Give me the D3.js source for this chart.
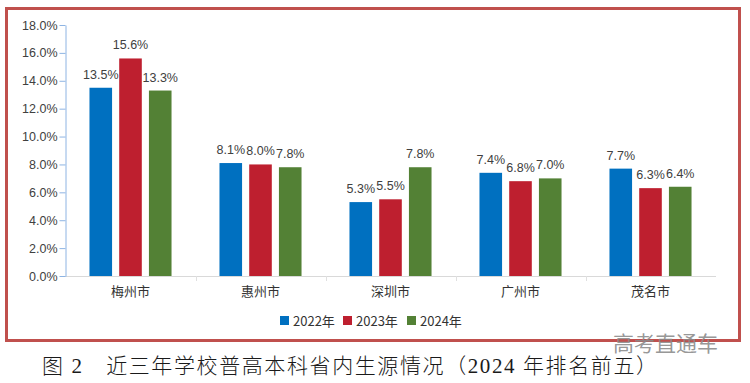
<!DOCTYPE html>
<html><head><meta charset="utf-8">
<script src="https://cdn.jsdelivr.net/npm/d3@7"></script>
<style>body{margin:0;background:#fff;}svg{display:block;}</style>
</head><body>
<svg id="c" width="750" height="383"></svg>
<script>
const categories = ["梅州市","惠州市","深圳市","广州市","茂名市"];
const seriesNames = ["2022年","2023年","2024年"];
const v2022 = [13.5, 8.1, 5.3, 7.4, 7.7];
const v2023 = [15.6, 8.0, 5.5, 6.8, 6.3];
const v2024 = [13.3, 7.8, 7.8, 7.0, 6.4];
const yTicks = [0,2,4,6,8,10,12,14,16,18];
const colors = ["#0070c0","#be1f2f","#538135"];
const caption = "图 2　近三年学校普高本科省内生源情况（2024 年排名前五）";
const watermark = "高考直通车";

const series = [v2022, v2023, v2024];
const svg = d3.select("#c");
const font = "'Liberation Sans', Arial, sans-serif";

// frame
svg.append("rect").attr("x",6.5).attr("y",8.5).attr("width",733).attr("height",332)
  .attr("fill","none").attr("stroke","#c0504d").attr("stroke-width",3);

const x0 = d3.scaleBand().domain(categories).range([65.5,715.5]);
const x1 = d3.scaleBand().domain(seriesNames).range([-44,44]).paddingInner(0.24).paddingOuter(0.1);
const y = d3.scaleLinear().domain([0,18]).range([276,25]);

// x axis line with light boundary ticks
svg.append("line").attr("x1",65).attr("x2",716).attr("y1",y(0)+0.5).attr("y2",y(0)+0.5)
  .attr("stroke","#d9d9d9").attr("stroke-width",1);
svg.append("g").selectAll("line").data(categories.slice(1)).join("line")
  .attr("x1",c=>Math.round(x0(c))+0.5).attr("x2",c=>Math.round(x0(c))+0.5)
  .attr("y1",y(0)).attr("y2",y(0)+5).attr("stroke","#e0e0e0");

// y axis
const yAxis = svg.append("g").attr("transform","translate(65.5,0)")
  .call(d3.axisLeft(y).tickValues(yTicks).tickSize(6).tickSizeOuter(0).tickFormat(d=>d.toFixed(1)+"%"));
yAxis.select(".domain").attr("stroke","#8eb4e3");
yAxis.selectAll(".tick line").attr("stroke","#8eb4e3");
yAxis.selectAll(".tick text").attr("font-family",font).attr("font-size",12.5).attr("fill","#404040").attr("x",-8);

// bars
const groups = svg.append("g").selectAll("g").data(categories).join("g")
  .attr("transform",c=>`translate(${x0(c)+x0.bandwidth()/2},0)`);
seriesNames.forEach((s,si)=>{
  groups.append("rect")
    .attr("x",x1(s)).attr("width",x1.bandwidth())
    .attr("y",(c,i)=>y(series[si][i])).attr("height",(c,i)=>y(0)-y(series[si][i]))
    .attr("fill",colors[si]);
  groups.append("text")
    .attr("x",x1(s)+x1.bandwidth()/2).attr("y",(c,i)=>y(series[si][i])-9)
    .attr("text-anchor","middle").attr("font-family",font).attr("font-size",12.5).attr("fill","#404040")
    .text((c,i)=>series[si][i].toFixed(1)+"%");
});

// category labels
svg.append("g").selectAll("text").data(categories).join("text")
  .attr("x",c=>x0(c)+x0.bandwidth()/2).attr("y",296)
  .attr("text-anchor","middle").attr("font-family","'Noto Sans CJK SC', sans-serif")
  .attr("font-size",13).attr("fill","#333").text(c=>c);

// legend
const legendX = [280, 343, 407];
seriesNames.forEach((s,i)=>{
  svg.append("rect").attr("x",legendX[i]).attr("y",316).attr("width",9).attr("height",9).attr("fill",colors[i]);
  svg.append("text").attr("x",legendX[i]+13).attr("y",325.5)
    .attr("font-family","'Noto Sans CJK SC', sans-serif").attr("font-size",13).attr("fill","#333").text(s);
});

// watermark
svg.append("text").attr("x",613).attr("y",351).attr("font-family","'Noto Sans CJK SC', sans-serif")
  .attr("font-size",21).attr("fill","#8a8a8a").attr("fill-opacity",0.9).text(watermark);

// caption
svg.append("text").attr("x",42).attr("y",373).attr("font-family","'Liberation Serif', 'Noto Sans CJK SC', serif")
  .attr("font-size",21).attr("font-weight",300).attr("fill","#1a1a1a")
  .attr("textLength",615).attr("lengthAdjust","spacing").text(caption);
</script>
</body></html>
